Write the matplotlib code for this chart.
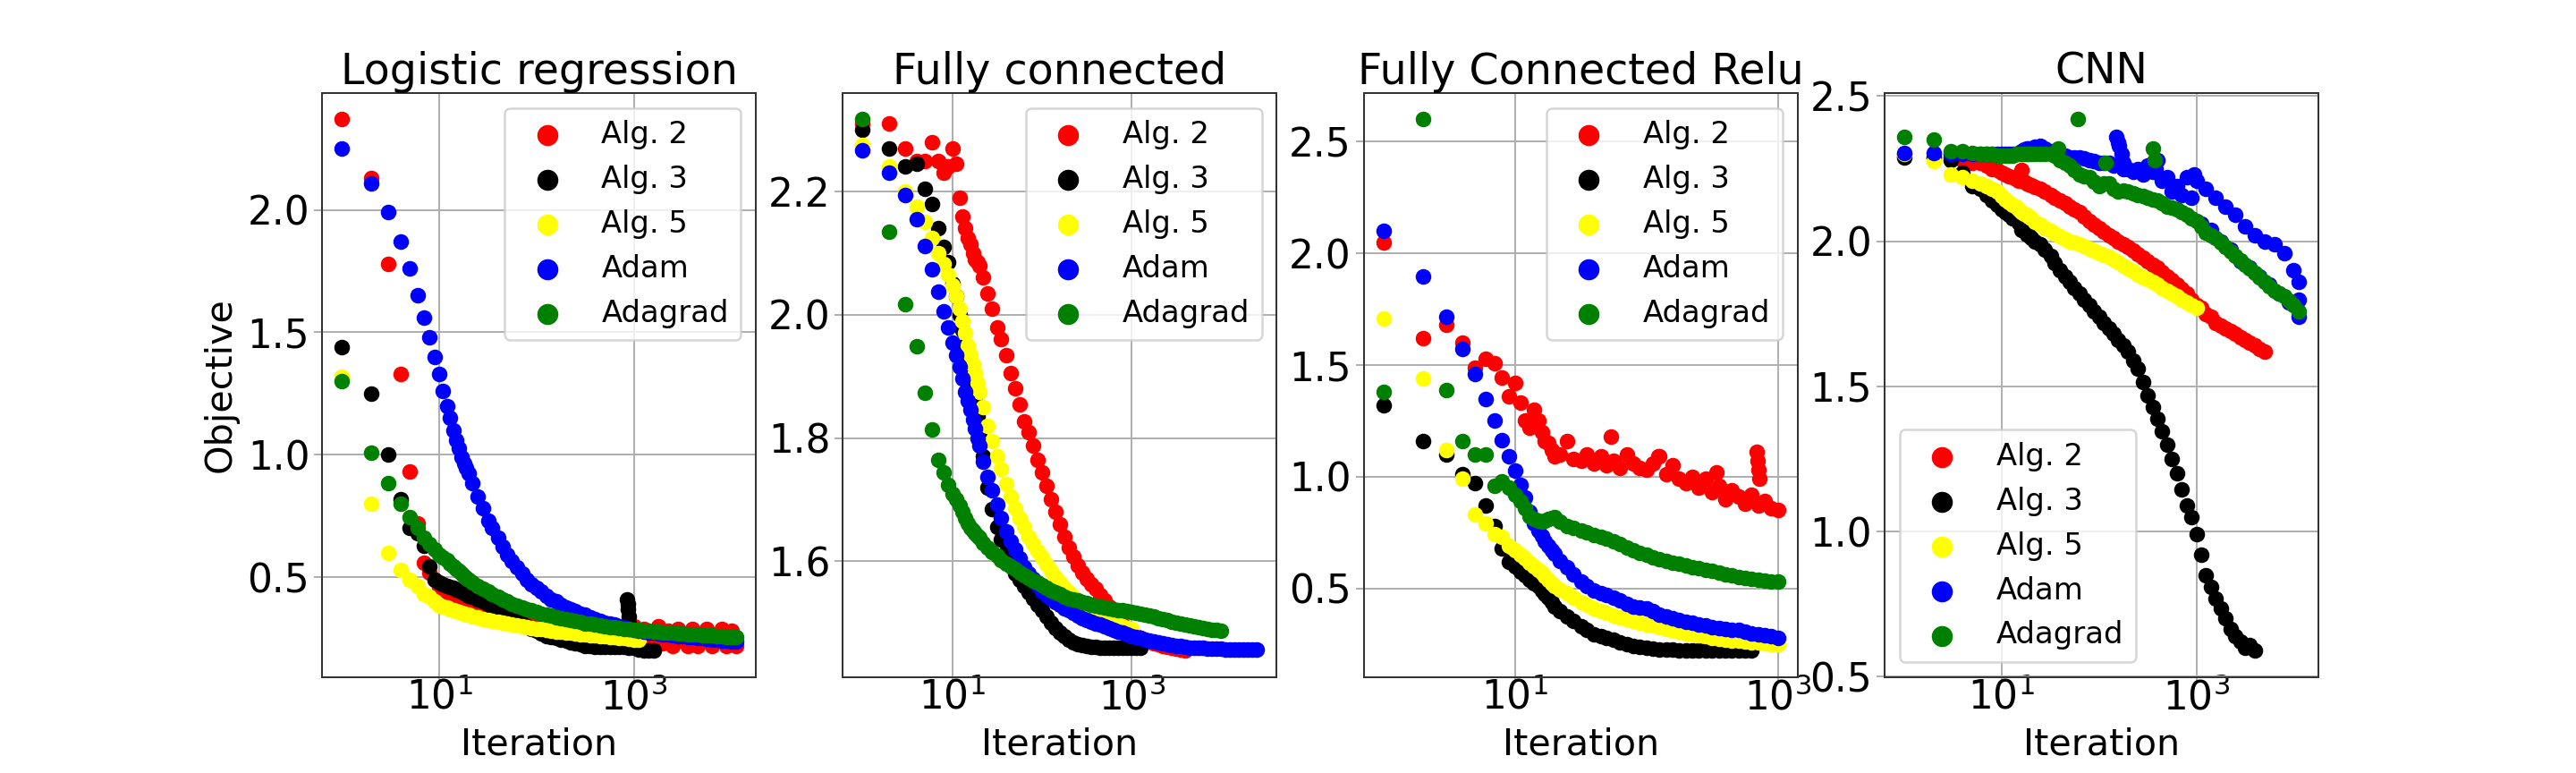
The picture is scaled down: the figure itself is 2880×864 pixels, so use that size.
import matplotlib.pyplot as plt
from matplotlib.ticker import NullLocator

# ---------- data ----------
# iteration grid: every iteration up to 20, then ~20 points per decade
ITERS = [1, 2, 3, 4, 5, 6, 7, 8, 9, 10,
         11, 12, 13, 14, 15, 16, 17, 18, 19, 20,
         22, 25, 28, 32, 35, 40, 45, 50, 56, 63, 71, 79, 89, 100,
         112, 126, 141, 158, 178, 200, 224, 251, 282, 316,
         355, 398, 447, 501, 562, 631, 708, 794, 891, 1000,
         1122, 1259, 1413, 1585, 1778, 1995, 2239, 2512, 2818, 3162,
         3548, 3981, 4467, 5012, 5623, 6310, 7079, 7943, 8913, 10000,
         11220, 12589, 14125, 15849, 17783, 19953, 22387, 25119]

labels = ["Alg. 2", "Alg. 3", "Alg. 5", "Adam", "Adagrad"]
colors = ["red", "black", "yellow", "blue", "green"]
titles = ["Logistic regression", "Fully connected", "Fully Connected Relu", "CNN"]

# Logistic regression
lr_alg2 = [2.37, 2.13, 1.78, 1.33, 0.93, 0.72, 0.56, 0.52, 0.49, 0.46,
           0.45, 0.44, 0.43, 0.42, 0.415, 0.41, 0.40, 0.395, 0.39, 0.385,
           0.375, 0.365, 0.36, 0.35, 0.345, 0.34, 0.335, 0.335, 0.33, 0.33, 0.325, 0.32, 0.315, 0.31,
           0.305, 0.305, 0.30, 0.30, 0.295, 0.295, 0.29, 0.29, 0.29, 0.285,
           0.285, 0.285, 0.29, 0.285, 0.29, 0.295, 0.30, 0.30, 0.29, 0.30,
           0.22, 0.29, 0.25, 0.22, 0.30, 0.23, 0.28, 0.22, 0.29, 0.24,
           0.22, 0.29, 0.22, 0.27, 0.29, 0.22, 0.25, 0.29, 0.22, 0.28,
           0.22]
lr_alg3 = [1.44, 1.25, 1.00, 0.82, 0.70, 0.68, 0.63, 0.545, 0.49, 0.48,
           0.47, 0.465, 0.46, 0.455, 0.45, 0.445, 0.44, 0.435, 0.43, 0.425,
           0.42, 0.41, 0.40, 0.39, 0.38, 0.365, 0.355, 0.345, 0.335, 0.325, 0.31, 0.30, 0.29, 0.28,
           0.27, 0.26, 0.255, 0.25, 0.245, 0.24, 0.235, 0.23, 0.225, 0.22,
           0.218, 0.216, 0.215, 0.215, 0.215, 0.215, 0.215, 0.215, 0.212, 0.21,
           0.205, 0.20, 0.20, 0.20]
lr_alg5 = [1.32, 0.80, 0.60, 0.53, 0.49, 0.465, 0.43, 0.42, 0.40, 0.385,
           0.38, 0.375, 0.37, 0.365, 0.36, 0.357, 0.354, 0.351, 0.348, 0.345,
           0.34, 0.335, 0.33, 0.325, 0.322, 0.318, 0.314, 0.31, 0.306, 0.302, 0.298, 0.295, 0.292, 0.29,
           0.287, 0.284, 0.281, 0.279, 0.277, 0.275, 0.272, 0.27, 0.268, 0.266,
           0.264, 0.262, 0.26, 0.258, 0.256, 0.254, 0.252, 0.25, 0.248, 0.246,
           0.244]
lr_adam = [2.25, 2.11, 1.99, 1.87, 1.76, 1.65, 1.56, 1.48, 1.40, 1.33,
           1.26, 1.20, 1.15, 1.10, 1.06, 1.025, 0.99, 0.965, 0.945, 0.925,
           0.885, 0.83, 0.78, 0.73, 0.70, 0.66, 0.625, 0.59, 0.565, 0.54, 0.515, 0.49, 0.47, 0.455,
           0.44, 0.425, 0.41, 0.40, 0.387, 0.375, 0.367, 0.36, 0.352, 0.345,
           0.337, 0.33, 0.322, 0.315, 0.31, 0.305, 0.30, 0.295, 0.29, 0.285,
           0.282, 0.278, 0.275, 0.272, 0.27, 0.267, 0.265, 0.262, 0.26, 0.258,
           0.256, 0.254, 0.252, 0.25, 0.248, 0.246, 0.244, 0.242, 0.24, 0.238,
           0.236]
lr_adagrad = [1.30, 1.01, 0.885, 0.80, 0.745, 0.70, 0.66, 0.635, 0.615, 0.59,
              0.58, 0.57, 0.555, 0.545, 0.535, 0.525, 0.515, 0.505, 0.497, 0.49,
              0.478, 0.465, 0.452, 0.44, 0.43, 0.42, 0.41, 0.40, 0.392, 0.385, 0.377, 0.37, 0.364, 0.358,
              0.352, 0.347, 0.342, 0.337, 0.332, 0.328, 0.324, 0.32, 0.316, 0.312,
              0.309, 0.306, 0.303, 0.30, 0.297, 0.295, 0.292, 0.29, 0.288, 0.286,
              0.284, 0.282, 0.28, 0.278, 0.276, 0.275, 0.273, 0.272, 0.27, 0.269,
              0.268, 0.266, 0.265, 0.264, 0.262, 0.261, 0.26, 0.259, 0.257, 0.256,
              0.255]
lr_alg3_spike_it = [850, 860, 870, 880, 890, 900, 910]
lr_alg3_spike = [0.41, 0.39, 0.37, 0.34, 0.31, 0.28, 0.25]

# Fully connected
fc_alg2 = [2.31, 2.31, 2.27, 2.25, 2.25, 2.28, 2.25, 2.23, 2.24, 2.27,
           2.245, 2.19, 2.16, 2.14, 2.125, 2.115, 2.10, 2.09, 2.085, 2.08,
           2.06, 2.035, 2.01, 1.98, 1.96, 1.935, 1.905, 1.88, 1.855, 1.827, 1.81, 1.788, 1.765, 1.744,
           1.722, 1.70, 1.68, 1.66, 1.64, 1.622, 1.607, 1.593, 1.582, 1.571,
           1.562, 1.555, 1.545, 1.537, 1.527, 1.517, 1.507, 1.498, 1.49, 1.484,
           1.479, 1.475, 1.472, 1.47, 1.467, 1.465, 1.463, 1.461, 1.46, 1.458,
           1.457, 1.455]
fc_alg3 = [2.30, 2.27, 2.24, 2.245, 2.205, 2.18, 2.14, 2.11, 2.085, 2.05,
           2.03, 2.00, 1.975, 1.95, 1.925, 1.90, 1.88, 1.86, 1.835, 1.81,
           1.77, 1.72, 1.685, 1.655, 1.635, 1.615, 1.595, 1.58, 1.57, 1.56, 1.55, 1.54, 1.53, 1.52,
           1.51, 1.50, 1.492, 1.485, 1.478, 1.473, 1.469, 1.466, 1.464, 1.462,
           1.461, 1.461, 1.46, 1.46, 1.46, 1.46, 1.46, 1.46, 1.46, 1.46,
           1.46, 1.46]
fc_alg5 = [2.275, 2.24, 2.20, 2.175, 2.15, 2.125, 2.10, 2.083, 2.065, 2.048,
           2.03, 2.01, 1.99, 1.97, 1.95, 1.935, 1.92, 1.905, 1.89, 1.875,
           1.85, 1.82, 1.795, 1.77, 1.75, 1.725, 1.705, 1.686, 1.67, 1.655, 1.64, 1.628, 1.617, 1.606,
           1.595, 1.584, 1.574, 1.565, 1.557, 1.55, 1.543, 1.537, 1.531, 1.525,
           1.52, 1.515, 1.51, 1.506, 1.502, 1.499, 1.497, 1.495, 1.492, 1.49]
fc_adam = [2.267, 2.231, 2.194, 2.155, 2.112, 2.073, 2.038, 2.006, 1.98, 1.955,
           1.935, 1.916, 1.897, 1.875, 1.86, 1.846, 1.83, 1.815, 1.80, 1.788,
           1.762, 1.737, 1.715, 1.692, 1.67, 1.648, 1.633, 1.619, 1.605, 1.59, 1.58, 1.571, 1.561, 1.551,
           1.545, 1.539, 1.534, 1.529, 1.524, 1.52, 1.516, 1.512, 1.508, 1.505,
           1.502, 1.499, 1.497, 1.494, 1.491, 1.489, 1.486, 1.484, 1.481, 1.479,
           1.477, 1.475, 1.473, 1.471, 1.47, 1.468, 1.467, 1.465, 1.464, 1.463,
           1.462, 1.461, 1.46, 1.46, 1.459, 1.459, 1.458, 1.458, 1.458, 1.458,
           1.457, 1.457, 1.457, 1.457, 1.457, 1.457, 1.457, 1.457]
fc_adagrad = [2.317, 2.135, 2.017, 1.949, 1.874, 1.814, 1.765, 1.744, 1.724, 1.71,
              1.70, 1.69, 1.68, 1.67, 1.662, 1.654, 1.65, 1.645, 1.641, 1.638,
              1.63, 1.622, 1.615, 1.609, 1.602, 1.596, 1.591, 1.587, 1.582, 1.577, 1.573, 1.569, 1.565, 1.561,
              1.557, 1.553, 1.549, 1.546, 1.543, 1.54, 1.538, 1.536, 1.534, 1.532,
              1.53, 1.528, 1.527, 1.525, 1.524, 1.522, 1.521, 1.52, 1.519, 1.518,
              1.516, 1.515, 1.513, 1.512, 1.51, 1.508, 1.506, 1.504, 1.502, 1.50,
              1.499, 1.497, 1.496, 1.494, 1.493, 1.491, 1.49, 1.489, 1.488, 1.487]

# Fully connected relu
fcr_alg2 = [2.05, 1.62, 1.68, 1.60, 1.49, 1.53, 1.51, 1.445, 1.36, 1.42,
            1.33, 1.25, 1.22, 1.30, 1.25, 1.20, 1.16, 1.15, 1.12, 1.09,
            1.10, 1.16, 1.08, 1.07, 1.10, 1.06, 1.09, 1.05, 1.07, 1.04, 1.10, 1.06, 1.04, 1.03,
            1.06, 1.09, 1.01, 1.05, 0.99, 0.97, 1.00, 0.95, 0.99, 0.93,
            0.96, 0.90, 0.94, 0.91, 0.88, 0.92, 0.87, 0.89, 0.86, 0.85]
fcr_alg3 = [1.32, 1.16, 1.10, 1.01, 0.97, 0.87, 0.78, 0.68, 0.62, 0.60,
            0.575, 0.56, 0.54, 0.525, 0.51, 0.49, 0.475, 0.46, 0.44, 0.42,
            0.40, 0.375, 0.355, 0.33, 0.315, 0.295, 0.285, 0.278, 0.27, 0.26, 0.252, 0.243, 0.238, 0.234,
            0.231, 0.228, 0.226, 0.225, 0.224, 0.224, 0.223, 0.223, 0.222, 0.222,
            0.222, 0.222, 0.222, 0.222, 0.222, 0.222]
fcr_alg5 = [1.71, 1.44, 1.12, 0.99, 0.83, 0.79, 0.745, 0.73, 0.69, 0.67,
            0.65, 0.635, 0.615, 0.60, 0.585, 0.57, 0.555, 0.54, 0.525, 0.51,
            0.495, 0.48, 0.46, 0.44, 0.425, 0.41, 0.40, 0.39, 0.38, 0.37, 0.362, 0.355, 0.347, 0.34,
            0.333, 0.325, 0.317, 0.31, 0.305, 0.30, 0.295, 0.29, 0.285, 0.28,
            0.275, 0.27, 0.267, 0.265, 0.262, 0.26, 0.257, 0.255, 0.252, 0.25]
fcr_adam = [2.10, 1.895, 1.715, 1.574, 1.459, 1.35, 1.25, 1.163, 1.093, 1.027,
            0.965, 0.907, 0.842, 0.79, 0.76, 0.736, 0.71, 0.69, 0.672, 0.657,
            0.625, 0.595, 0.565, 0.533, 0.51, 0.49, 0.48, 0.472, 0.458, 0.445, 0.432, 0.42, 0.415, 0.41,
            0.397, 0.383, 0.375, 0.366, 0.358, 0.352, 0.346, 0.34, 0.333, 0.327,
            0.323, 0.32, 0.316, 0.313, 0.306, 0.30, 0.295, 0.29, 0.285, 0.28]
fcr_adagrad = [1.38, 2.60, 1.39, 1.16, 1.10, 1.10, 0.96, 0.98, 0.95, 0.92,
               0.89, 0.86, 0.825, 0.81, 0.805, 0.80, 0.805, 0.81, 0.815, 0.82,
               0.80, 0.78, 0.77, 0.76, 0.75, 0.74, 0.73, 0.725, 0.71, 0.70, 0.685, 0.67, 0.66, 0.65,
               0.64, 0.63, 0.622, 0.615, 0.61, 0.605, 0.597, 0.59, 0.584, 0.578,
               0.571, 0.565, 0.558, 0.552, 0.547, 0.543, 0.539, 0.535, 0.532, 0.53]
fcr_alg2_spike_it = [54, 123, 340, 690, 700, 710, 720]
fcr_alg2_spike = [1.18, 1.09, 1.02, 1.11, 1.07, 1.03, 0.99]

# CNN
cnn_alg2 = [2.30, 2.29, 2.29, 2.28, 2.27, 2.27, 2.26, 2.25, 2.245, 2.235,
            2.23, 2.225, 2.22, 2.215, 2.21, 2.245, 2.205, 2.20, 2.197, 2.193,
            2.187, 2.18, 2.17, 2.16, 2.15, 2.14, 2.13, 2.12, 2.11, 2.10, 2.085, 2.07, 2.057, 2.045,
            2.032, 2.02, 2.01, 2.00, 1.99, 1.98, 1.967, 1.955, 1.942, 1.93,
            1.92, 1.91, 1.895, 1.88, 1.865, 1.85, 1.835, 1.82, 1.80, 1.78,
            1.77, 1.75, 1.74, 1.72, 1.71, 1.70, 1.69, 1.68, 1.67, 1.66,
            1.65, 1.64, 1.63, 1.62]
cnn_alg3 = [2.29, 2.29, 2.28, 2.235, 2.19, 2.18, 2.16, 2.14, 2.125, 2.11,
            2.10, 2.09, 2.08, 2.075, 2.065, 2.04, 2.035, 2.025, 2.02, 2.01,
            2.00, 1.99, 1.97, 1.95, 1.925, 1.90, 1.88, 1.86, 1.84, 1.82, 1.80, 1.78, 1.76, 1.74,
            1.72, 1.70, 1.68, 1.66, 1.64, 1.62, 1.59, 1.56, 1.515, 1.47,
            1.43, 1.39, 1.345, 1.30, 1.25, 1.20, 1.145, 1.09, 1.05, 0.99,
            0.92, 0.85, 0.81, 0.77, 0.735, 0.70, 0.665, 0.64, 0.62, 0.60,
            0.61, 0.59]
cnn_alg5 = [2.30, 2.275, 2.23, 2.22, 2.21, 2.20, 2.19, 2.18, 2.17, 2.155,
            2.145, 2.135, 2.125, 2.12, 2.11, 2.10, 2.095, 2.09, 2.085, 2.08,
            2.068, 2.056, 2.046, 2.036, 2.026, 2.016, 2.008, 2.00, 1.995, 1.99, 1.982, 1.975, 1.967, 1.96,
            1.952, 1.945, 1.936, 1.927, 1.916, 1.906, 1.896, 1.886, 1.877, 1.868,
            1.859, 1.85, 1.84, 1.83, 1.82, 1.81, 1.80, 1.79, 1.78, 1.77]
cnn_adam = [2.305, 2.305, 2.30, 2.30, 2.30, 2.30, 2.30, 2.30, 2.30, 2.30,
            2.30, 2.30, 2.30, 2.30, 2.305, 2.31, 2.315, 2.32, 2.32, 2.32,
            2.325, 2.33, 2.32, 2.31, 2.305, 2.30, 2.295, 2.29, 2.29, 2.29, 2.285, 2.28, 2.275, 2.27,
            2.27, 2.27, 2.26, 2.34, 2.25, 2.25, 2.24, 2.25, 2.23, 2.26,
            2.24, 2.28, 2.21, 2.22, 2.17, 2.19, 2.16, 2.22, 2.15, 2.21,
            2.06, 2.18, 2.04, 2.15, 2.00, 2.12, 1.97, 2.09, 1.93, 2.05,
            1.91, 2.02, 1.88, 2.00, 1.85, 1.99, 1.82, 1.96, 1.79, 1.90,
            1.74]
cnn_adagrad = [2.36, 2.35, 2.31, 2.31, 2.305, 2.30, 2.30, 2.30, 2.295, 2.295,
               2.295, 2.295, 2.295, 2.30, 2.30, 2.30, 2.30, 2.30, 2.30, 2.30,
               2.30, 2.30, 2.30, 2.30, 2.295, 2.28, 2.27, 2.26, 2.245, 2.23, 2.225, 2.22, 2.205, 2.19,
               2.20, 2.20, 2.18, 2.17, 2.175, 2.17, 2.165, 2.16, 2.155, 2.15,
               2.145, 2.14, 2.13, 2.12, 2.115, 2.11, 2.10, 2.09, 2.08, 2.07,
               2.05, 2.03, 2.02, 2.01, 1.995, 1.98, 1.965, 1.95, 1.935, 1.92,
               1.905, 1.89, 1.875, 1.86, 1.845, 1.83, 1.82, 1.81, 1.795, 1.78,
               1.76]
cnn_adam_spike_it = [150, 160, 170, 180, 360, 380, 950, 11220, 11220]
cnn_adam_spike = [2.36, 2.33, 2.30, 2.27, 2.27, 2.25, 2.23, 1.86, 1.80]
cnn_adagrad_spike_it = [38, 60, 117, 360, 370]
cnn_adagrad_spike = [2.32, 2.42, 2.27, 2.32, 2.28]

yticks = [[0.5, 1.0, 1.5, 2.0], [1.6, 1.8, 2.0, 2.2],
          [0.5, 1.0, 1.5, 2.0, 2.5], [0.5, 1.0, 1.5, 2.0, 2.5]]
legend_locs = ["upper right", "upper right", "upper right", "lower left"]

panels = [
    [lr_alg2, lr_alg3, lr_alg5, lr_adam, lr_adagrad],
    [fc_alg2, fc_alg3, fc_alg5, fc_adam, fc_adagrad],
    [fcr_alg2, fcr_alg3, fcr_alg5, fcr_adam, fcr_adagrad],
    [cnn_alg2, cnn_alg3, cnn_alg5, cnn_adam, cnn_adagrad],
]
# extra (noisy) points: (panel, series) -> (iterations, values)
extras = {
    (0, 1): (lr_alg3_spike_it, lr_alg3_spike),
    (2, 0): (fcr_alg2_spike_it, fcr_alg2_spike),
    (3, 3): (cnn_adam_spike_it, cnn_adam_spike),
    (3, 4): (cnn_adagrad_spike_it, cnn_adagrad_spike),
}

# ---------- plot ----------
fig, axes = plt.subplots(1, 4, figsize=(16, 4.8), dpi=180)
fig.subplots_adjust(left=0.125, right=0.9, bottom=0.124, top=0.88, wspace=0.2)

for p, ax in enumerate(axes):
    ax.set_axisbelow(True)
    for s, vals in enumerate(panels[p]):
        xs = ITERS[:len(vals)]
        ys = list(vals)
        if (p, s) in extras:
            xs = xs + extras[(p, s)][0]
            ys = ys + extras[(p, s)][1]
        ax.scatter(xs, ys, s=36, c=colors[s], label=labels[s])
    ax.set_xscale("log")
    ax.set_xticks([10, 1000])
    ax.xaxis.set_minor_locator(NullLocator())
    ax.set_yticks(yticks[p])
    ax.grid(True, color="#b0b0b0", linewidth=0.8)
    ax.tick_params(labelsize=17.5, color="#b0b0b0")
    ax.tick_params(axis="x", length=1.5, pad=-1.1)
    ax.tick_params(axis="y", pad=2)
    for sp in ax.spines.values():
        sp.set_color("#333333")
    ax.set_title(titles[p], fontsize=19, pad=1)
    ax.set_xlabel("Iteration", fontsize=16.5)
    ax.legend(loc=legend_locs[p], fontsize=13.5, markerscale=1.4)

axes[0].set_ylabel("Objective", fontsize=16.5)

fig.savefig("out.png", dpi=180)
